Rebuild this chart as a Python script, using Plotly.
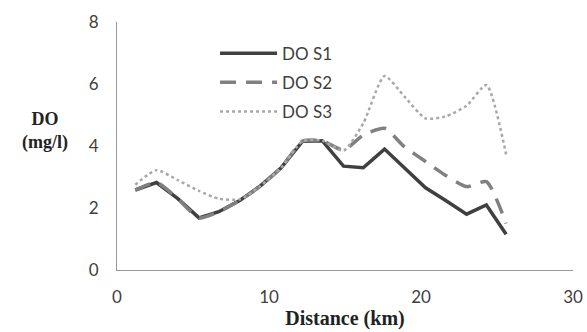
import plotly.graph_objects as go

distance = [1.2, 2.6, 4.0, 5.4, 6.7, 8.1, 9.4, 10.8, 12.2, 13.5, 14.9, 16.2, 17.6, 18.9, 20.3, 21.6, 23.0, 24.3, 25.6]
do_s1 = [2.58, 2.82, 2.3, 1.68, 1.88, 2.25, 2.7, 3.3, 4.15, 4.17, 3.35, 3.3, 3.9, 3.3, 2.65, 2.25, 1.8, 2.1, 1.15]
do_s2 = [2.58, 2.82, 2.3, 1.68, 1.88, 2.25, 2.7, 3.3, 4.15, 4.17, 3.87, 4.35, 4.57, 3.98, 3.5, 3.06, 2.69, 2.85, 1.5]
do_s3 = [2.75, 3.22, 2.9, 2.55, 2.3, 2.28, 2.7, 3.3, 4.15, 4.17, 3.85, 4.73, 6.26, 5.6, 4.89, 4.95, 5.3, 5.97, 3.73]

series = [
    ("DO S1", do_s1, dict(color="#404040", width=3.5, dash="solid"), "linear"),
    ("DO S2", do_s2, dict(color="#808080", width=3.5, dash="16px,10px"), "spline"),
    ("DO S3", do_s3, dict(color="#a8a8a8", width=2.5, dash="dot"), "spline"),
]

fig = go.Figure()
for i, (name, ys, line, shape) in enumerate(series):
    line = dict(line)
    line["shape"] = shape
    if shape == "spline":
        line["smoothing"] = 0.6
    fig.add_trace(go.Scatter(x=distance, y=ys, mode="lines", name=name,
                             line=line, legendgroup=f"g{i}"))

fig.update_layout(
    width=587, height=332,
    margin=dict(l=117, r=14, t=22, b=62),
    paper_bgcolor="white", plot_bgcolor="white",
    font=dict(family="Lato, Open Sans, sans-serif", size=17, color="#404040"),
    showlegend=True,
    legend=dict(x=0.215, y=0.945, xanchor="left", yanchor="top",
                bgcolor="rgba(0,0,0,0)", itemwidth=57, tracegroupgap=4,
                font=dict(family="Lato, Open Sans, sans-serif", size=17, color="#404040")),
    xaxis=dict(range=[0, 30], tickvals=[0, 10, 20, 30], showgrid=False, zeroline=False,
               showline=True, linecolor="#999999", linewidth=1, ticks="",
               ticklabelstandoff=12, automargin=False,
               title=dict(text="<b>Distance (km)</b>", standoff=4,
                          font=dict(family="Liberation Serif, serif", size=20, color="#222222"))),
    yaxis=dict(range=[0, 8], tickvals=[0, 2, 4, 6, 8], showgrid=False, zeroline=False,
               showline=True, linecolor="#999999", linewidth=1, ticks="",
               ticklabelstandoff=14, automargin=False),
)

fig.add_annotation(text="<b>DO</b><br><b>(mg/l)</b>", xref="paper", yref="paper",
                   x=-0.158, y=0.56, xanchor="center", yanchor="middle", showarrow=False,
                   font=dict(family="Liberation Serif, serif", size=18, color="#222222"))

fig.write_html("out.html")
